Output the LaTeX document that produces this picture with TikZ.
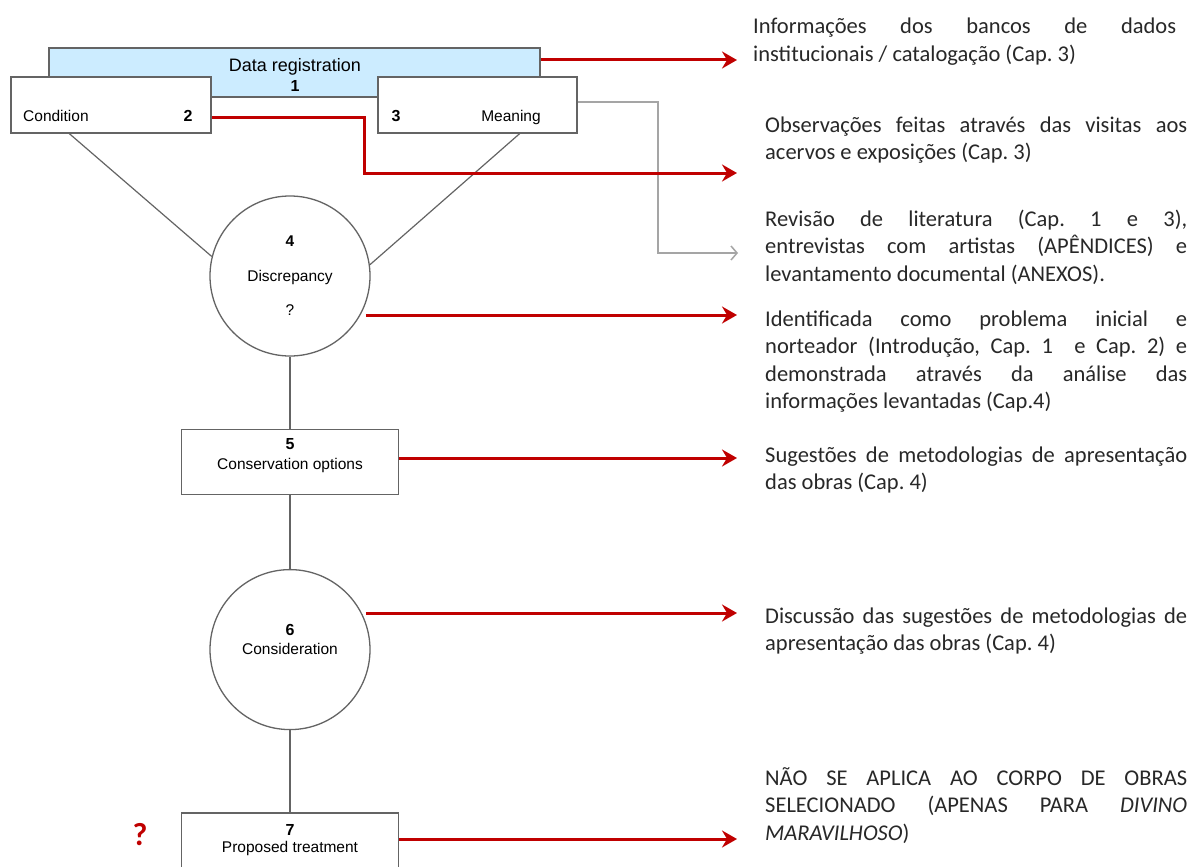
\documentclass[tikz,border=0pt]{standalone}
\usepackage{fontspec}
\setmainfont{Liberation Sans}
\newfontfamily\notefont{Carlito}
\usetikzlibrary{positioning,arrows.meta}
\usepackage{xcolor}
\definecolor{StepRed}{RGB}{192,0,0}
\definecolor{StepGray}{RGB}{100,100,100}
\definecolor{LinkGray}{RGB}{165,165,165}
\definecolor{RegBlue}{RGB}{204,236,255}
\definecolor{NoteInk}{RGB}{40,40,40}

\begin{document}
\begin{tikzpicture}[x=1pt,y=-1pt,
node distance=72pt,
stagebox/.style={rectangle,draw=StepGray,fill=white,line width=1.3pt,inner sep=0pt,
minimum width=217pt,minimum height=65pt},
stagedisc/.style={circle,draw=StepGray,fill=white,line width=1.3pt,inner sep=0pt,
minimum size=160pt,align=center,font=\fontsize{15.5}{18}\selectfont},
lbl/.style={inner sep=0pt,anchor=base,font=\fontsize{15.5}{18}\selectfont},
num/.style={inner sep=0pt,anchor=base,font=\fontsize{16}{18}\selectfont\bfseries},
note/.style={anchor=base west,inner sep=0pt,text width=422pt,align=justify,text=NoteInk,
font=\notefont\fontsize{22.5}{27.5}\selectfont\frenchspacing},
arrow/.style={-{Stealth[length=15pt,width=17pt,inset=5pt]},line width=3pt,draw=StepRed},
link/.style={line width=1.2pt,draw=StepGray}
]
\fill[white] (0,0) rectangle (1191,867);
\useasboundingbox (0,0) rectangle (1191,867);

% top row
\node[stagebox,fill=RegBlue,minimum width=491pt,minimum height=49pt] (reg) at (294.5,72.5) {};
\node[lbl,font=\fontsize{18}{21}\selectfont] (regname) at (295,71) {Data registration};
\node[num] (regnum) at (295,92) {1};
\node[stagebox,minimum width=200pt,minimum height=56pt] (cond) at (111,105) {};
\node[stagebox,minimum width=199pt,minimum height=56pt] (mean) at (477.5,105) {};
\node[lbl,anchor=base west] (condname) at (23,121) {Condition};
\node[num] (condnum) at (188,121) {2};
\node[num] (meannum) at (396,121) {3};
\node[lbl] (meanname) at (511,121) {Meaning};

% main column
\node[stagedisc] (c4) at (290,276) {\textbf{4}\\[17pt]Discrepancy\\[16pt]?};
\node[stagebox,below=of c4] (opt) {};
\node[num] (optnum) at ([yshift=12.5pt]opt.center) {5};
\node[lbl] (optname) at ([yshift=-7.5pt]opt.center) {Conservation options};
\node[stagedisc,below=74pt of opt] (c6) {};
\node[num] (c6num) at ([yshift=14pt]c6.center) {6};
\node[lbl] (c6name) at ([yshift=-5pt]c6.center) {Consideration};
\node[stagebox,below=82pt of c6] (treat) {};
\node[num] (treatnum) at ([yshift=9.5pt]treat.center) {7};
\node[lbl] (treatname) at ([yshift=-7.5pt]treat.center) {Proposed treatment};
\node[inner sep=0pt,anchor=base,text=StepRed,font=\notefont\bfseries\fontsize{32}{32}\selectfont] (doubt) at (140,845) {?};

\draw[link] ([xshift=59pt]cond.south west) -- (c4.166);
\draw[link] ([xshift=-58pt]mean.south east) -- (c4.8);
\draw[link] (c4) -- (opt);
\draw[link] (opt) -- (c6);
\draw[link] (c6) -- (treat);

% arrows to the notes
\coordinate (t1) at (737,60);
\coordinate (t2) at (737,173);
\coordinate (k2) at (364,173);
\coordinate (t3) at (738,253);
\coordinate (k3) at (658,253);
\coordinate (t4) at (737,315);
\coordinate (t5) at (737,458);
\coordinate (t6) at (737,613);
\coordinate (t7) at (737,839);
\draw[-{Straight Barb[length=6pt,width=14pt]},line width=1.5pt,draw=LinkGray] ([yshift=3pt]mean.east) -| (k3) -- (t3);
\draw[arrow] (reg.east |- t1) -- (t1);
\draw[arrow] ([yshift=-12pt]cond.east) -| (k2) -- (t2);
\draw[arrow] (t4 -| c4.-20) -- (t4);
\draw[arrow] (opt.east |- t5) -- (t5);
\draw[arrow] (t6 -| c6.20) -- (t6);
\draw[arrow] (treat.east |- t7) -- (t7);

% notes
\node[note,text width=423pt] (n1) at (753,34) {Informações dos bancos de dados\linebreak institucionais / catalogação (Cap. 3)};
\node[note] (n2) at (765,132) {Observações feitas através das visitas aos\linebreak acervos e exposições (Cap. 3)};
\node[note] (n3) at (765,226) {Revisão de literatura (Cap. 1 e 3),\linebreak entrevistas com artistas (APÊNDICES) e\linebreak levantamento documental (ANEXOS).};
\node[note] (n4) at (765,326) {Identificada como problema inicial e\linebreak norteador (Introdução, Cap. 1~ e Cap. 2) e\linebreak demonstrada através da análise das\linebreak informações levantadas (Cap.4)};
\node[note] (n5) at (765,462) {Sugestões de metodologias de apresentação\linebreak das obras (Cap. 4)};
\node[note] (n6) at (765,623) {Discussão das sugestões de metodologias de\linebreak apresentação das obras (Cap. 4)};
\node[note] (n7) at (765,785) {NÃO SE APLICA AO CORPO DE OBRAS\linebreak SELECIONADO (APENAS PARA \textit{DIVINO}\linebreak \textit{MARAVILHOSO})};
\end{tikzpicture}
\end{document}
